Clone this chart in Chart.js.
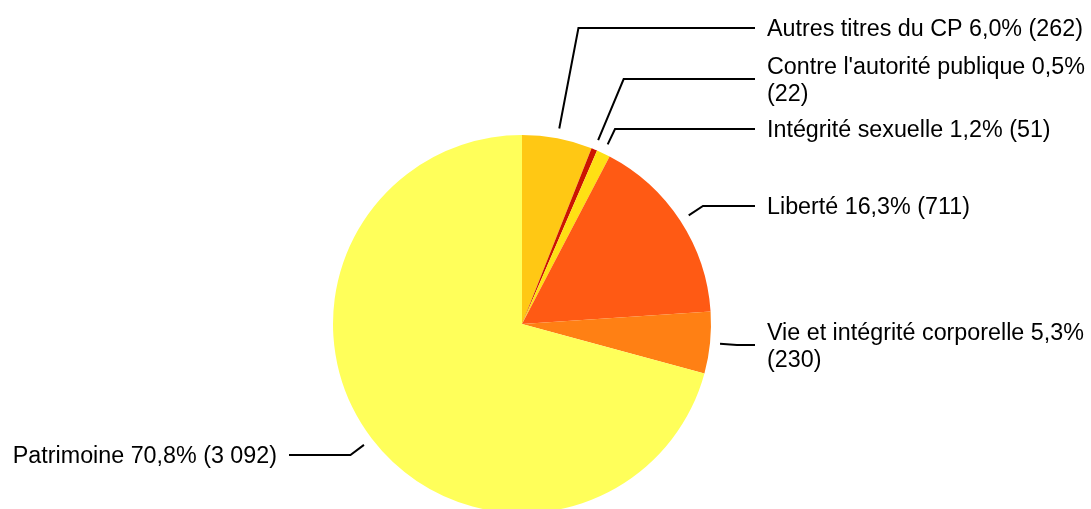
<!DOCTYPE html>
<html>
<head>
<meta charset="utf-8">
<script src="https://cdn.jsdelivr.net/npm/chart.js@4"></script>
<style>
    html, body { margin: 0; padding: 0; background: #fff; overflow: hidden; }
    #wrap { position: relative; width: 1091px; height: 540px; }
</style>
</head>
<body>
<div id="wrap"><canvas id="pie"></canvas></div>
<script>
// Data
const categories = [
    'Autres titres du CP',
    "Contre l'autorité publique",
    'Intégrité sexuelle',
    'Liberté',
    'Vie et intégrité corporelle',
    'Patrimoine'
];
const counts = [262, 22, 51, 711, 230, 3092];

// Colors
const COLORS = ['#ffc814', '#cc1400', '#ffe014', '#ff5a14', '#ff8014', '#ffff5a'];

const FONT = '23.3px "Liberation Sans", Arial, sans-serif';
const LINE_H = 27;

function formatPct(v) {
    return v.toFixed(1).replace('.', ',') + '%';
}
function formatCount(v) {
    return String(v).replace(/\B(?=(\d{3})+(?!\d))/g, ' ');
}

function wrapText(ctx, text, maxWidth) {
    const words = text.split(' ');
    const lines = [];
    let line = '';
    words.forEach(w => {
        const test = line ? line + ' ' + w : w;
        if (line && ctx.measureText(test).width > maxWidth) {
            lines.push(line);
            line = w;
        } else {
            line = test;
        }
    });
    if (line) lines.push(line);
    return lines;
}

// leader lines + labels
const labelPlugin = {
    id: 'leaderLabels',
    afterDraw(chart) {
        const ctx = chart.ctx;
        const meta = chart.getDatasetMeta(0);
        const data = chart.data.datasets[0].data;
        const total = data.reduce((a, b) => a + b, 0);
        ctx.save();
        ctx.font = FONT;

        const items = meta.data.map((arc, i) => {
            const mid = (arc.startAngle + arc.endAngle) / 2;
            const r = arc.outerRadius;
            const cos = Math.cos(mid), sin = Math.sin(mid);
            const right = cos >= 0;
            const endX = arc.x + (right ? 1 : -1) * (r + 44);
            const textX = endX + (right ? 12 : -12);
            const maxW = right ? chart.width - textX : textX;
            const text = chart.data.labels[i] + ' ' + formatPct(data[i] / total * 100) + ' (' + formatCount(data[i]) + ')';
            const lines = wrapText(ctx, text, maxW);
            return {
                arc, mid, r, cos, sin, right, endX, textX, lines,
                half: lines.length * LINE_H / 2,
                y: arc.y + sin * (r + 27)
            };
        });

        // push overlapping labels upward, side by side
        [true, false].forEach(side => {
            const group = items.filter(it => it.right === side).sort((a, b) => b.y - a.y);
            for (let k = 1; k < group.length; k++) {
                const prev = group[k - 1], cur = group[k];
                const limit = prev.y - (prev.half + cur.half + 10);
                if (cur.y > limit) cur.y = limit;
            }
        });

        ctx.strokeStyle = '#000';
        ctx.lineWidth = 2;
        ctx.fillStyle = '#000';
        items.forEach(it => {
            const {arc, r, cos, sin} = it;
            const sx = arc.x + cos * (r + 10), sy = arc.y + sin * (r + 10);
            let re = r + 27;
            if (Math.abs(sin) > 0.05) {
                const need = (it.y - arc.y) / sin;
                if (need > re) re = need;
            }
            const ey = Math.round(it.y);
            const ex = arc.x + cos * re;
            ctx.beginPath();
            ctx.moveTo(sx, sy);
            ctx.lineTo(ex, ey);
            ctx.lineTo(it.endX, ey);
            ctx.stroke();

            ctx.textAlign = it.right ? 'left' : 'right';
            ctx.textBaseline = 'alphabetic';
            const top = ey - it.half;
            it.lines.forEach((ln, j) => {
                ctx.fillText(ln, it.textX, top + LINE_H * j + LINE_H / 2 + 8.3);
            });
        });
        ctx.restore();
    }
};

new Chart(document.getElementById('pie').getContext('2d'), {
    type: 'pie',
    data: {
        labels: categories,
        datasets: [{
            data: counts,
            backgroundColor: COLORS,
            borderWidth: 0,
            hoverOffset: 0,
            offset: 0
        }]
    },
    options: {
        responsive: true,
        maintainAspectRatio: false,
        animation: false,
        events: [],
        layout: {
            padding: { left: 333, right: 380, top: 135, bottom: 27 }
        },
        plugins: {
            legend: { display: false },
            tooltip: { enabled: false },
            title: { display: false }
        }
    },
    plugins: [labelPlugin]
});
</script>
</body>
</html>
